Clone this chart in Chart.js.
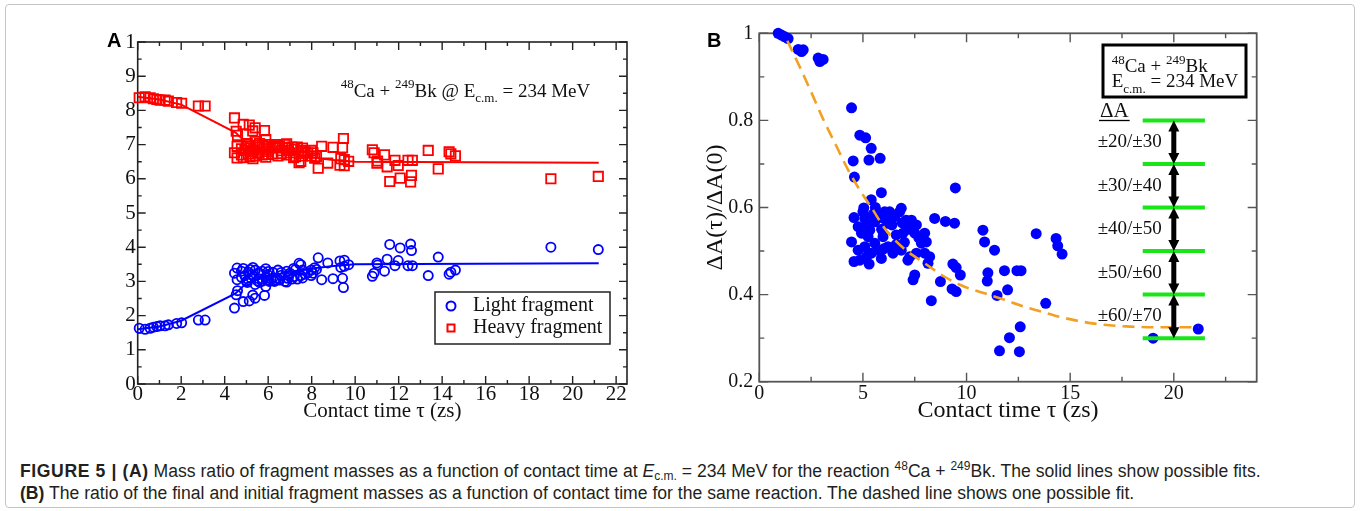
<!DOCTYPE html>
<html>
<head>
<meta charset="utf-8">
<script src="https://cdn.jsdelivr.net/npm/chart.js@4.4.1/dist/chart.umd.min.js"></script>
<style>
  html, body { margin: 0; padding: 0; background: #fff; }
  #page { position: relative; width: 1360px; height: 511px; overflow: hidden; background: #fff; }
  #frame { position: absolute; left: 5px; top: 4px; width: 1348px; height: 502px; border: 1px solid #c4c4c4; border-radius: 4px; }
  #boxA { position: absolute; left: 40px; top: 10px; }
  #boxB { position: absolute; left: 680px; top: 10px; }
  #caption { position: absolute; left: 20px; top: 460px; width: 1330px; font-family: 'Liberation Sans', Arial, sans-serif;
             font-size: 17.6px; line-height: 22px; color: #231f20; white-space: nowrap; }
  #caption .fig { letter-spacing: 0.6px; }
  #caption sup, #caption .sub { font-size: 12px; line-height: 0; }
  #caption .sub { position: relative; top: 3px; }
</style>
</head>
<body>
<div id="page">
  <div id="frame"></div>
  <div id="boxA"><canvas id="chartA" width="620" height="420"></canvas></div>
  <div id="boxB"><canvas id="chartB" width="660" height="420"></canvas></div>
  <div id="caption">
    <b class="fig">FIGURE 5 | (A)</b> Mass ratio of fragment masses as a function of contact time at <i>E</i><span class="sub">c.m.</span> = 234 MeV for the reaction <sup>48</sup>Ca + <sup>249</sup>Bk. The solid lines show possible fits.<br>
    <b>(B)</b> The ratio of the final and initial fragment masses as a function of contact time for the same reaction. The dashed line shows one possible fit.
  </div>
</div>
<script>
// ---- panel A: fragment mass ratio vs contact time ----
const tauA = [
  0.07, 0.34, 0.57, 0.72, 0.88, 1.03, 1.26, 1.41, 1.79, 2.02, 2.79, 3.10,
  4.45, 4.85, 5.13, 5.40, 4.53, 5.29, 5.83, 4.59, 5.89, 5.40, 5.04, 9.46,
  4.57, 4.45, 4.77, 4.57, 4.85, 5.17, 5.09, 5.33, 5.57, 5.73, 6.05, 6.29, 6.53, 6.77, 6.85,
  7.09, 7.34, 7.58, 7.98, 8.06, 7.50, 7.82, 6.93, 6.61, 5.97, 5.57, 5.73, 6.21, 6.45, 6.85,
  7.26, 7.58, 7.98, 8.22, 8.14, 7.17, 5.89, 5.41, 5.09, 4.77, 4.93, 5.25, 6.21,
  5.00, 5.50, 6.00, 6.40, 6.90, 7.20, 5.20, 5.90, 6.60, 7.00, 7.70, 5.30, 6.00, 6.35, 5.60,
  8.46, 8.98, 9.42, 10.79, 10.87, 11.35, 13.36, 9.34, 9.50, 9.70, 7.50, 7.42, 8.74, 9.30, 9.50,
  8.30, 11.03, 11.00, 11.83, 12.43, 12.63, 11.47, 11.98, 13.82, 14.32, 14.40, 14.61,
  12.59, 12.07, 11.59, 12.55, 19.00, 21.18
];
const lightMass = [
  1.63, 1.60, 1.63, 1.66, 1.68, 1.70, 1.70, 1.73, 1.77, 1.79, 1.87, 1.87,
  2.22, 2.41, 2.43, 2.51, 2.61, 2.60, 2.59, 2.73, 2.85, 2.91, 2.97, 2.82,
  3.05, 3.24, 3.12, 3.39, 3.38, 3.35, 3.05, 3.15, 3.08, 3.01, 3.00, 3.00, 3.04, 3.00, 2.98,
  3.07, 3.07, 3.10, 3.17, 3.24, 3.17, 3.25, 3.17, 3.18, 3.20, 3.25, 3.30, 3.27, 3.33, 3.30,
  3.35, 3.33, 3.33, 3.35, 3.40, 3.38, 3.37, 3.33, 3.27, 3.30, 3.17, 3.20, 3.09,
  3.00, 3.02, 3.05, 3.10, 3.09, 3.14, 3.10, 3.14, 3.26, 3.24, 3.21, 3.41, 3.29, 3.04, 2.97,
  3.05, 3.08, 3.09, 3.15, 3.24, 3.30, 3.17, 3.41, 3.44, 3.49, 3.49, 3.53, 3.54, 3.60, 3.62,
  3.69, 3.48, 3.54, 3.46, 3.46, 3.46, 3.65, 3.61, 3.71, 3.21, 3.27, 3.33,
  3.90, 3.98, 4.08, 4.09, 4.00, 3.93
];
const heavyMass = [
  8.37, 8.40, 8.37, 8.34, 8.32, 8.30, 8.30, 8.27, 8.23, 8.21, 8.13, 8.13,
  7.78, 7.59, 7.57, 7.49, 7.39, 7.40, 7.41, 7.27, 7.15, 7.09, 7.03, 7.18,
  6.95, 6.76, 6.88, 6.61, 6.62, 6.65, 6.95, 6.85, 6.92, 6.99, 7.00, 7.00, 6.96, 7.00, 7.02,
  6.93, 6.93, 6.90, 6.83, 6.76, 6.83, 6.75, 6.83, 6.82, 6.80, 6.75, 6.70, 6.73, 6.67, 6.70,
  6.65, 6.67, 6.67, 6.65, 6.60, 6.62, 6.63, 6.67, 6.73, 6.70, 6.83, 6.80, 6.91,
  7.00, 6.98, 6.95, 6.90, 6.91, 6.86, 6.90, 6.86, 6.74, 6.76, 6.79, 6.59, 6.71, 6.96, 7.03,
  6.95, 6.92, 6.91, 6.85, 6.76, 6.70, 6.83, 6.59, 6.56, 6.51, 6.51, 6.47, 6.46, 6.40, 6.38,
  6.31, 6.52, 6.46, 6.54, 6.54, 6.54, 6.35, 6.39, 6.29, 6.79, 6.73, 6.67,
  6.10, 6.02, 5.92, 5.91, 6.00, 6.07
];
// solid fit lines in panel A
const fitTauA   = [0, 1, 2, 4.5, 5, 6, 7, 8, 9, 10, 21.2];
const fitLight  = [1.60, 1.68, 1.85, 2.65, 2.95, 3.15, 3.28, 3.38, 3.45, 3.50, 3.53];
const fitHeavy  = [8.40, 8.32, 8.17, 7.35, 7.05, 6.85, 6.72, 6.62, 6.55, 6.50, 6.47];

// ---- panel B: dA(tau)/dA(0) vs contact time ----
const tauB = [
  0.91, 1.07, 1.23, 1.39, 1.88, 2.04, 2.12, 2.84, 3.08, 2.92,
  4.45, 4.85, 5.13, 5.40, 4.53, 5.29, 5.83, 4.59, 5.89, 5.40, 5.04, 9.46,
  4.57, 4.45, 4.77, 4.57, 4.85, 5.17, 5.09, 5.33, 5.57, 5.73, 6.05, 6.29, 6.53, 6.77, 6.85,
  7.09, 7.34, 7.58, 7.98, 8.06, 7.50, 7.82, 6.93, 6.61, 5.97, 5.57, 5.73, 6.21, 6.45, 6.85,
  7.26, 7.58, 7.98, 8.22, 8.14, 7.17, 5.89, 5.41, 5.09, 4.77, 4.93, 5.25, 6.21,
  5.00, 5.50, 6.00, 6.40, 6.90, 7.20, 5.20, 5.90, 6.60, 7.00, 7.70, 5.30, 6.00, 6.35, 5.60,
  8.46, 8.98, 9.42, 10.79, 10.87, 11.35, 13.36, 9.34, 9.50, 9.70, 7.50, 7.42, 8.74, 9.30, 9.50,
  8.30, 11.03, 11.00, 11.83, 12.43, 12.63, 11.47, 11.98, 13.82, 14.32, 14.40, 14.61,
  12.59, 12.07, 11.59, 12.55, 19.00, 21.18
];
const ratioB = [
  1.000, 0.996, 0.992, 0.988, 0.963, 0.958, 0.962, 0.943, 0.940, 0.935,
  0.829, 0.766, 0.760, 0.736, 0.707, 0.709, 0.713, 0.670, 0.634, 0.618, 0.599, 0.645,
  0.577, 0.521, 0.556, 0.476, 0.479, 0.487, 0.575, 0.548, 0.567, 0.587, 0.590, 0.590, 0.579, 0.590, 0.598,
  0.571, 0.571, 0.560, 0.541, 0.521, 0.541, 0.518, 0.541, 0.537, 0.533, 0.518, 0.502, 0.510, 0.495, 0.502,
  0.487, 0.495, 0.495, 0.487, 0.472, 0.479, 0.483, 0.495, 0.510, 0.502, 0.541, 0.533, 0.564,
  0.590, 0.585, 0.575, 0.560, 0.565, 0.550, 0.560, 0.550, 0.515, 0.520, 0.530, 0.470, 0.505, 0.580, 0.600,
  0.575, 0.568, 0.564, 0.548, 0.521, 0.502, 0.540, 0.470, 0.462, 0.445, 0.445, 0.434, 0.430, 0.413, 0.407,
  0.386, 0.450, 0.431, 0.455, 0.455, 0.455, 0.398, 0.411, 0.380, 0.529, 0.512, 0.493,
  0.326, 0.301, 0.271, 0.269, 0.300, 0.321
];
// dashed fit in panel B
const fitTauB = [1.35, 2.06, 2.57, 3.12, 3.73, 4.29, 4.85, 5.49, 6.05, 7.0, 7.98, 8.94, 9.9, 10.87, 11.83, 12.79, 13.6, 14.48, 16.08, 17.69, 19.29, 21.2];
const fitRatio = [0.983, 0.912, 0.858, 0.799, 0.740, 0.686, 0.640, 0.594, 0.552, 0.505, 0.472, 0.441, 0.418, 0.403, 0.388, 0.372, 0.361, 0.349, 0.334, 0.327, 0.325, 0.325];
// mass-window ladder on the right of panel B
const levelRatio = [0.8, 0.7, 0.6, 0.5, 0.4, 0.3];
const levelSpan = [18.5, 21.5];
const arrowTau = 20;
const windowLabels = ['\u00b120/\u00b130', '\u00b130/\u00b140', '\u00b140/\u00b150', '\u00b150/\u00b160', '\u00b160/\u00b170'];

const serif = "'Liberation Serif', 'Times New Roman', serif";
const sans = "'Liberation Sans', Arial, sans-serif";

function pts(xs, ys) { return xs.map((v, i) => ({ x: v, y: ys[i] })); }

// draws text pieces with super/subscripts, returns end x
function rich(ctx, x, y, parts) {
  parts.forEach(p => {
    ctx.font = p.s + 'px ' + serif;
    ctx.fillText(p.t, x, y + (p.dy || 0));
    x += ctx.measureText(p.t).width;
  });
  return x;
}

// box + inward ticks on all four sides (Grace style)
Chart.register({
  id: 'frameTicks',
  beforeDatasetsDraw(chart, args, o) {
    const { ctx, chartArea: a, scales: { x, y } } = chart;
    ctx.save();
    ctx.strokeStyle = o.color;
    ctx.lineWidth = o.tickWidth;
    ctx.beginPath();
    x.ticks.forEach(t => {
      const px = x.getPixelForValue(t.value);
      const len = t.label === '' ? o.minor : o.major;
      ctx.moveTo(px, a.bottom); ctx.lineTo(px, a.bottom - len);
      ctx.moveTo(px, a.top); ctx.lineTo(px, a.top + len);
    });
    y.ticks.forEach(t => {
      const py = y.getPixelForValue(t.value);
      const len = t.label === '' ? o.minor : o.major;
      ctx.moveTo(a.left, py); ctx.lineTo(a.left + len, py);
      ctx.moveTo(a.right, py); ctx.lineTo(a.right - len, py);
    });
    ctx.stroke();
    ctx.lineWidth = o.frameWidth;
    ctx.strokeRect(a.left, a.top, a.right - a.left, a.bottom - a.top);
    ctx.restore();
  }
});

function axisFont(size) { return { family: serif, size: size, lineHeight: 1 }; }

// ---------------- chart A ----------------
const annotA = {
  id: 'annotA',
  afterDraw(chart) {
    const { ctx, chartArea: a } = chart;
    ctx.save();
    ctx.fillStyle = '#000';
    ctx.textBaseline = 'alphabetic';
    ctx.font = 'bold 20px ' + sans;
    ctx.fillText('A', 67, 37);
    ctx.fillStyle = '#111';
    rich(ctx, a.left + 203, a.top + 55, [
      { t: '48', s: 13, dy: -9 }, { t: 'Ca + ', s: 19 }, { t: '249', s: 13, dy: -9 },
      { t: 'Bk @ E', s: 19 }, { t: 'c.m.', s: 13, dy: 5 }, { t: ' = 234 MeV', s: 19 }
    ]);
    // legend box
    const lx = a.right - 192, ly = a.bottom - 92;
    ctx.strokeStyle = '#222';
    ctx.lineWidth = 1.5;
    ctx.strokeRect(lx, ly, 175, 52);
    ctx.lineWidth = 2;
    ctx.strokeStyle = '#0000ff';
    ctx.beginPath(); ctx.arc(lx + 16, ly + 14, 4.5, 0, Math.PI * 2); ctx.stroke();
    ctx.strokeStyle = '#ff0000';
    ctx.strokeRect(lx + 12.5, ly + 32.5, 7, 7);
    ctx.fillStyle = '#111';
    ctx.font = '20px ' + serif;
    ctx.textBaseline = 'middle';
    ctx.fillText('Light fragment', lx + 38, ly + 14);
    ctx.fillText('Heavy fragment', lx + 38, ly + 36);
    ctx.restore();
  }
};

new Chart(document.getElementById('chartA'), {
  type: 'scatter',
  data: {
    datasets: [
      { data: pts(fitTauA, fitLight), showLine: true, borderColor: '#0000ff', borderWidth: 2, pointRadius: 0, tension: 0 },
      { data: pts(fitTauA, fitHeavy), showLine: true, borderColor: '#ff0000', borderWidth: 2, pointRadius: 0, tension: 0 },
      { label: 'Light fragment', data: pts(tauA, lightMass), pointStyle: 'circle', pointRadius: 4.6,
        borderColor: '#0000ff', backgroundColor: 'rgba(0,0,0,0)', borderWidth: 1.8, clip: false },
      { label: 'Heavy fragment', data: pts(tauA, heavyMass), pointStyle: 'rect', pointRadius: 6.6,
        borderColor: '#ff0000', backgroundColor: 'rgba(0,0,0,0)', borderWidth: 1.8, clip: false }
    ]
  },
  options: {
    responsive: false, animation: false, events: [],
    layout: { padding: { left: 0, top: 32, right: 33, bottom: 0 } },
    plugins: {
      legend: { display: false }, tooltip: { enabled: false },
      frameTicks: { color: '#222', tickWidth: 1.4, frameWidth: 1.6, major: 8, minor: 4 }
    },
    scales: {
      x: {
        type: 'linear', min: 0, max: 22.5,
        grid: { display: false, drawTicks: false }, border: { display: false },
        ticks: { stepSize: 1, autoSkip: false, includeBounds: false, maxRotation: 0, padding: 0,
                 font: axisFont(21), color: '#111', callback: v => (v % 2 === 0 ? String(v) : '') },
        title: { display: true, text: 'Contact time \u03c4 (zs)', color: '#111',
                 font: { family: serif, size: 21, lineHeight: 1.2 }, padding: { top: 0, bottom: 6 } },
        afterFit: s => { s.height = 46; }
      },
      y: {
        type: 'linear', min: 0, max: 10,
        grid: { display: false, drawTicks: false }, border: { display: false },
        ticks: { stepSize: 0.5, autoSkip: false, includeBounds: false, padding: 2,
                 font: axisFont(21), color: '#111',
                 callback: v => (Number.isInteger(v) ? (v === 10 ? '1' : String(v)) : '') },
        afterFit: s => { s.width = 97.7; }
      }
    }
  },
  plugins: [annotA]
});

// ---------------- chart B ----------------
const annotB = {
  id: 'annotB',
  afterDatasetsDraw(chart) {
    const { ctx, chartArea: a, scales: { x, y } } = chart;
    ctx.save();
    ctx.fillStyle = '#000';
    ctx.textBaseline = 'alphabetic';
    ctx.font = 'bold 20px ' + sans;
    ctx.fillText('B', 27, 37);
    // reaction box
    ctx.strokeStyle = '#000';
    ctx.lineWidth = 3;
    ctx.strokeRect(423, 35, 143, 52);
    ctx.fillStyle = '#111';
    rich(ctx, 431.7, 61.7, [
      { t: '48', s: 13, dy: -8 }, { t: 'Ca + ', s: 19 }, { t: '249', s: 13, dy: -8 }, { t: 'Bk', s: 19 }
    ]);
    rich(ctx, 431.7, 77, [
      { t: 'E', s: 19 }, { t: 'c.m.', s: 13, dy: 6 }, { t: ' = 234 MeV', s: 19 }
    ]);
    // underlined delta A heading
    ctx.font = '21px ' + serif;
    const w = ctx.measureText('\u0394A').width;
    ctx.fillText('\u0394A', 420, 107);
    ctx.lineWidth = 1.3;
    ctx.beginPath(); ctx.moveTo(419, 110.5); ctx.lineTo(421 + w, 110.5); ctx.stroke();
    // double arrows between levels + window labels
    const ax = x.getPixelForValue(arrowTau);
    ctx.font = '19px ' + serif;
    ctx.textAlign = 'right';
    ctx.textBaseline = 'middle';
    for (let i = 0; i < windowLabels.length; i++) {
      const y1 = y.getPixelForValue(levelRatio[i]);
      const y2 = y.getPixelForValue(levelRatio[i + 1]);
      const hw = 5.5, hl = 11, sw = 5;
      ctx.fillStyle = '#000';
      ctx.fillRect(ax - sw / 2, y1 + hl - 1, sw, y2 - y1 - 2 * hl + 2);
      ctx.beginPath();
      ctx.moveTo(ax, y1); ctx.lineTo(ax - hw, y1 + hl); ctx.lineTo(ax + hw, y1 + hl); ctx.closePath();
      ctx.moveTo(ax, y2); ctx.lineTo(ax - hw, y2 - hl); ctx.lineTo(ax + hw, y2 - hl); ctx.closePath();
      ctx.fill();
      ctx.fillStyle = '#111';
      ctx.fillText(windowLabels[i], ax - 12, (y1 + y2) / 2);
    }
    ctx.restore();
  }
};

const levelSets = levelRatio.map(r => ({
  data: pts(levelSpan, [r, r]), showLine: true, borderColor: '#19e619', borderWidth: 4,
  pointRadius: 0, borderCapStyle: 'butt', order: 1
}));

new Chart(document.getElementById('chartB'), {
  type: 'scatter',
  data: {
    datasets: [
      { data: pts(fitTauB, fitRatio), showLine: true, borderColor: '#f2a024', borderWidth: 2.6,
        borderDash: [12, 7], pointRadius: 0, cubicInterpolationMode: 'monotone', order: 0 },
      ...levelSets,
      { data: pts(tauB, ratioB), pointStyle: 'circle', pointRadius: 5.5, borderWidth: 0,
        backgroundColor: '#0000ff', clip: false, order: 2 }
    ]
  },
  options: {
    responsive: false, animation: false, events: [],
    layout: { padding: { left: 0, top: 23.3, right: 83.3, bottom: 0 } },
    plugins: {
      legend: { display: false }, tooltip: { enabled: false },
      frameTicks: { color: '#555', tickWidth: 1.4, frameWidth: 1.8, major: 9, minor: 5 }
    },
    scales: {
      x: {
        type: 'linear', min: 0, max: 24,
        grid: { display: false, drawTicks: false }, border: { display: false },
        ticks: { stepSize: 2.5, autoSkip: false, includeBounds: false, maxRotation: 0, padding: 2,
                 font: axisFont(20), color: '#111', callback: v => (v % 5 === 0 ? String(v) : '') },
        title: { display: true, text: 'Contact time \u03c4 (zs)', color: '#111',
                 font: { family: serif, size: 24, lineHeight: 1.2 }, padding: { top: 0, bottom: 5 } },
        afterFit: s => { s.height = 48.3; }
      },
      y: {
        type: 'linear', min: 0.2, max: 1,
        grid: { display: false, drawTicks: false }, border: { display: false },
        ticks: { stepSize: 0.1, autoSkip: false, includeBounds: false, padding: 6,
                 font: axisFont(20), color: '#111',
                 callback: v => { const k = Math.round(v * 10); return k % 2 === 0 ? (k === 10 ? '1' : (k / 10).toFixed(1)) : ''; } },
        title: { display: true, text: '\u0394A(\u03c4)/\u0394A(0)', color: '#111',
                 font: { family: serif, size: 24, lineHeight: 1.2 }, padding: { top: 21, bottom: 0 } },
        afterFit: s => { s.width = 79.3; }
      }
    }
  },
  plugins: [annotB]
});
</script>
</body>
</html>
